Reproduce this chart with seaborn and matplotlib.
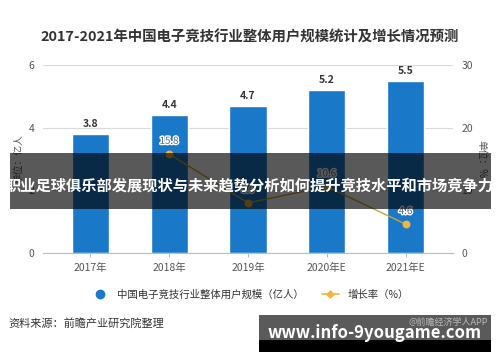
import numpy as np
import pandas as pd
import matplotlib
matplotlib.use("Agg")
import matplotlib.pyplot as plt
import matplotlib.patheffects as pe
from matplotlib.lines import Line2D
from matplotlib.patches import Rectangle
import seaborn as sns

years = ["2017年", "2018年", "2019年", "2020年E", "2021年E"]
users = [3.8, 4.4, 4.7, 5.2, 5.5]
growth_years = ["2018年", "2019年", "2020年E", "2021年E"]
growth = [15.8, 8.0, 10.6, 4.6]

title = "2017-2021年中国电子竞技行业整体用户规模统计及增长情况预测"
banner = "职业足球俱乐部发展现状与未来趋势分析如何提升竞技水平和市场竞争力"
source = "资料来源：前瞻产业研究院整理"
site = "www.info-9yougame.com"

sns.set_style("white")
plt.rcParams['font.family'] = ['Noto Sans CJK SC', 'DejaVu Sans']

bar_color = "#1a78c8"
line_color = "#c9a23a"
point_color = "#f2b43a"
tick_color = "#555555"

fig = plt.figure(figsize=(5, 3.62), dpi=100)
ax = fig.add_axes([43 / 500, 1 - 253 / 362, 410 / 500, 188 / 362])

df = pd.DataFrame({"year": years, "users": users})
sns.barplot(data=df, x="year", y="users", color=bar_color, width=0.47,
            saturation=1, ax=ax, zorder=2)
ax.set_xlim(-0.6, 4.6)
ax.set_ylim(0, 6)
ax.set_yticks([0, 2, 4, 6])
ax.yaxis.grid(True, color="#d9d9d9", lw=0.8, zorder=0)
ax.set_axisbelow(True)
for s in ["top", "right", "left"]:
    ax.spines[s].set_visible(False)
ax.spines["bottom"].set_color("#bbbbbb")
ax.tick_params(axis="y", length=0, labelsize=7.5, colors=tick_color, pad=6)
ax.tick_params(axis="x", length=3, color="#bbbbbb", labelsize=7.5,
               colors=tick_color, pad=4, bottom=True)
ax.set_xlabel("")
ax.set_ylabel("单位：亿人", fontsize=7, color=tick_color, labelpad=4)

for i, v in enumerate(users):
    ax.text(i, v + 0.15, f"{v}", ha="center", va="bottom", fontsize=7.5,
            fontweight="bold", color="#333333")

ax2 = ax.twinx()
pos = [years.index(y) for y in growth_years]
sns.lineplot(x=pos, y=growth, color=line_color, lw=1.0, ax=ax2, zorder=3)
ax2.scatter(pos, growth, s=22, color=point_color, zorder=4)
ax2.set_ylim(0, 30)
ax2.set_yticks([0, 10, 20, 30])
for s in ["top", "right", "left", "bottom"]:
    ax2.spines[s].set_visible(False)
ax2.tick_params(axis="y", length=0, labelsize=7.5, colors=tick_color, pad=6)
ax2.set_ylabel("单位：%", fontsize=7, color=tick_color, rotation=270, labelpad=10)
ax2.set_xlim(-0.6, 4.6)
for p, v in zip(pos, growth):
    ax2.text(p, v + 1.3, f"{v}", ha="center", va="bottom", fontsize=7,
             color="#4a6a8a",
             path_effects=[pe.withStroke(linewidth=2, foreground="white")])

fig.text(0.5, 1 - 37 / 362, title, ha="center", va="center", fontsize=10.4,
         fontweight="bold", color="#333333")

handles = [Line2D([], [], marker="o", ls="", color=bar_color, markersize=6),
           Line2D([], [], marker="D", ls="-", color=point_color, lw=1.2,
                  markersize=3.5)]
fig.legend(handles, ["中国电子竞技行业整体用户规模（亿人）", "增长率（%）"],
           loc="center", bbox_to_anchor=(0.5, 1 - 295 / 362), ncol=2,
           frameon=False, fontsize=7.5, handlelength=1.6, columnspacing=1.8,
           labelcolor="#333333")

fig.text(8 / 500, 1 - 323 / 362, source, ha="left", va="center",
         fontsize=8, color="#333333")

# overlay banner across the middle
fig.patches.append(Rectangle((10 / 500, 1 - 209 / 362), 481 / 500, 56 / 362,
                             transform=fig.transFigure, facecolor="black",
                             edgecolor="none", alpha=0.65, zorder=10))
fig.text(0.5, 1 - 185 / 362, banner, ha="center", va="center", fontsize=11,
         fontweight="bold", color="white", zorder=11)

# bottom-right site banner
fig.patches.append(Rectangle((259 / 500, 1 - 352 / 362), 232 / 500, 37 / 362,
                             transform=fig.transFigure, facecolor="#5a5a5a",
                             edgecolor="none", zorder=10))
fig.patches.append(Rectangle((259 / 500, 1 - 352 / 362), 232 / 500, 12 / 362,
                             transform=fig.transFigure, facecolor="black",
                             edgecolor="none", zorder=10))
fig.text(488 / 500, 1 - 322 / 362, "@前瞻经济学人APP", ha="right", va="center",
         fontsize=6.5, color="#bbbbbb", zorder=11)
fig.text(375 / 500, 1 - 333 / 362, site, ha="center", va="center",
         fontsize=12, fontweight="bold", color="white", zorder=11)

fig.savefig("out.png", dpi=100)
